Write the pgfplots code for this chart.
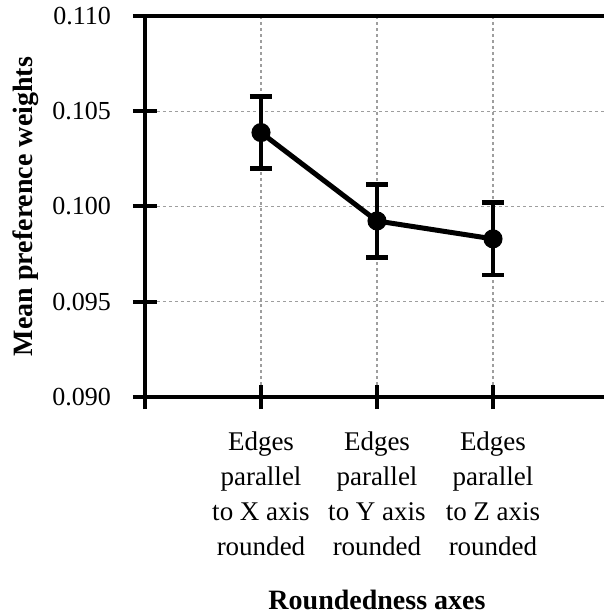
\documentclass[border=0pt]{standalone}
\usepackage{pgfplots}
\pgfplotsset{compat=1.18}
\usepackage{fontspec}
\setmainfont{Liberation Serif}
\begin{document}
\begin{tikzpicture}
\begin{axis}[
  name=ax,
  scale only axis,
  width=232pt, height=190.5pt,
  xmin=0, xmax=4, ymin=0.090, ymax=0.110,
  axis x line*=box, axis y line*=left,
  axis line style={line width=2pt, black},
  xtick={0,1,2,3},
  xticklabels={{},{Edges\\parallel\\to X axis\\rounded},{Edges\\parallel\\to Y axis\\rounded},{Edges\\parallel\\to Z axis\\rounded}},
  ytick={0.090,0.095,0.100,0.105,0.110},
  xtick pos=bottom, ytick pos=left,
  tick align=center,
  major tick length=12pt,
  tick style={line width=2pt, black},
  grid=major,
  major grid style={line width=0.6pt, color=black!38, dash pattern=on 1.5pt off 1.5pt},
  /pgf/number format/assume math mode=true,
  yticklabel style={/pgf/number format/fixed, /pgf/number format/fixed zerofill, /pgf/number format/precision=3, font=\fontsize{13}{15}\selectfont, xshift=-7.5pt},
  scaled y ticks=false,
  xticklabel style={align=center, font=\fontsize{13.5}{17.5}\selectfont, yshift=-7.8pt},
  xlabel={Roundedness axes},
  ylabel={Mean preference weights},
  every axis x label/.style={at={(axis description cs:0.5,0)}, anchor=base, yshift=-106pt, font=\fontsize{14}{16}\selectfont\bfseries},
  every axis y label/.style={at={(rel axis cs:-0.2435,0.5)}, anchor=base, rotate=90, font=\fontsize{14}{16}\selectfont\bfseries},
]
\addplot[black, line width=2.5pt, mark=*, mark size=3.5pt,
  error bars/.cd, y dir=both, y explicit,
  error mark=|,
  error bar style={line width=2.4pt, black},
  error mark options={line width=2.4pt, mark size=5.5pt, black}]
  coordinates {
    (1,0.10388) +- (0,0.0019)
    (2,0.09924) +- (0,0.0019)
    (3,0.09830) +- (0,0.0019)
  };
\end{axis}
\pgfresetboundingbox
\useasboundingbox ([xshift=-72.5pt,yshift=-109pt]ax.south west) rectangle ([xshift=-2.5pt,yshift=8pt]ax.north east);
\end{tikzpicture}
\end{document}
